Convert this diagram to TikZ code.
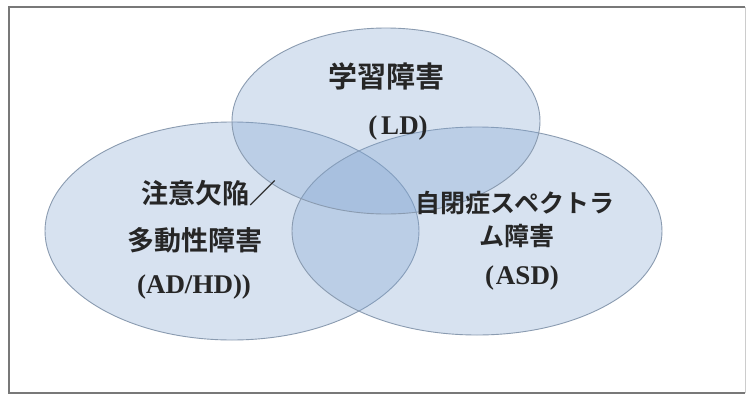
\documentclass[tikz,border=0pt]{standalone}
\usepackage{fontspec}
\setmainfont{Liberation Serif}
\newfontfamily\jpfont{Noto Sans CJK JP}[BoldFont=* Bold]
\usetikzlibrary{shapes.geometric}
\definecolor{setfill}{RGB}{125,162,208}
\definecolor{setedge}{RGB}{138,155,176}
\definecolor{framegray}{RGB}{120,120,120}
\tikzset{
  setshape/.style={ellipse, draw=setedge, line width=0.9pt, fill=setfill, fill opacity=0.3, draw opacity=1, inner sep=0pt},
  jplabel/.style={font=\jpfont\bfseries, text=black!85, inner sep=0pt, anchor=center},
  latlabel/.style={font=\bfseries, text=black!85, inner sep=0pt, anchor=center},
}
\begin{document}
\begin{tikzpicture}[x=1pt,y=-1pt]
\useasboundingbox (0,0) rectangle (750,394);
\fill[white] (0,0) rectangle (750,394);
\draw[framegray, line width=2pt] (745,393) -- (9,393) -- (9,7) -- (745,7);
\draw[black!20, line width=1pt] (745,7) -- (745,393);
% sets
\node[setshape, minimum width=374pt, minimum height=218pt] (adhd) at (232,231) {};
\node[setshape, minimum width=370pt, minimum height=208pt] (asd) at (477,231) {};
\node[setshape, minimum width=308pt, minimum height=186pt] (ld) at (386,121) {};
% labels
\node[jplabel, font=\jpfont\bfseries\fontsize{29}{29}\selectfont] (ldname) at (386,76) {学習障害};
\node[latlabel, font=\bfseries\fontsize{27}{27}\selectfont] (ldabbr) at (398,128) {(\kern4pt LD)};
\node[jplabel, font=\jpfont\bfseries\fontsize{27}{27}\selectfont] (adhdname1) at (209,193) {注意欠陥／};
\node[jplabel, font=\jpfont\bfseries\fontsize{27}{27}\selectfont] (adhdname2) at (195,240) {多動性障害};
\node[latlabel, font=\bfseries\fontsize{27}{27}\selectfont] (adhdabbr) at (194,287) {(AD/HD))};
\node[jplabel, font=\jpfont\bfseries\fontsize{25}{25}\selectfont] (asdname1) at (515,203) {自閉症スペクトラ};
\node[jplabel, font=\jpfont\bfseries\fontsize{25}{25}\selectfont] (asdname2) at (517,236) {ム障害};
\node[latlabel, font=\bfseries\fontsize{27}{27}\selectfont] (asdabbr) at (522,278) {(\kern2pt ASD)};
\end{tikzpicture}
\end{document}
